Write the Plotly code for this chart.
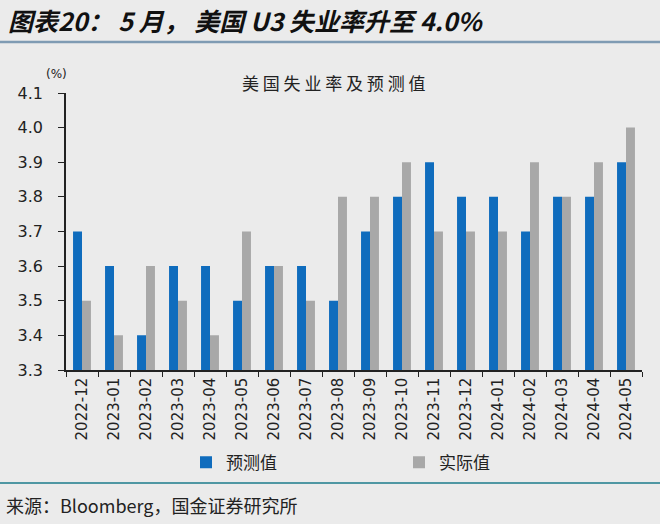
import plotly.graph_objects as go

months = ["2022-12","2023-01","2023-02","2023-03","2023-04","2023-05","2023-06","2023-07","2023-08",
          "2023-09","2023-10","2023-11","2023-12","2024-01","2024-02","2024-03","2024-04","2024-05"]
forecast = [3.7,3.6,3.4,3.6,3.6,3.5,3.6,3.6,3.5,3.7,3.8,3.9,3.8,3.8,3.7,3.8,3.8,3.9]
actual = [3.5,3.4,3.6,3.5,3.4,3.7,3.6,3.5,3.8,3.8,3.9,3.7,3.7,3.7,3.9,3.8,3.9,4.0]
yticks = [3.3,3.4,3.5,3.6,3.7,3.8,3.9,4.0,4.1]

BG = "#ebebeb"
CJK = "Noto Sans CJK SC"

fig = go.Figure()
fig.add_trace(go.Bar(x=months, y=forecast, name="预测值", marker_color="#0f6cbd", marker_line_width=0))
fig.add_trace(go.Bar(x=months, y=actual, name="实际值", marker_color="#a8a8a8", marker_line_width=0))

fig.update_layout(
    width=660, height=524,
    paper_bgcolor=BG, plot_bgcolor=BG,
    margin=dict(l=66, r=18, t=93, b=154),
    barmode="group", bargap=0.44, bargroupgap=0,
    font=dict(family=CJK, color="#222"),
    showlegend=True,
    legend=dict(orientation="h", x=(186-66)/576, xanchor="left", y=-0.335, yanchor="middle",
                font=dict(size=17, family=CJK, color="#222"), entrywidth=168, bgcolor="rgba(0,0,0,0)",
                itemwidth=30),
    xaxis=dict(type="category", showline=True, linecolor="#222", linewidth=1.5,
               ticks="outside", ticklen=5, tickcolor="#222", tickson="boundaries",
               tickangle=-90, tickfont=dict(family="DejaVu Sans", size=15, color="#222"),
               showgrid=False, zeroline=False),
    yaxis=dict(range=[3.3, 4.1], tickvals=yticks, ticktext=[f"{v:.1f}" for v in yticks],
               showline=True, linecolor="#222", linewidth=1.5,
               ticks="outside", ticklen=6, tickcolor="#222",
               tickfont=dict(family="DejaVu Sans", size=16, color="#222"),
               showgrid=False, zeroline=False, ticklabelstandoff=12),
    annotations=[
        dict(text="<b><i>图表20： 5 月， 美国 U3 失业率升至 4.0%</i></b>", xref="paper", yref="paper",
             x=-60/576, y=(524-20-154)/277, xanchor="left", yanchor="middle", showarrow=False,
             font=dict(size=25, family=CJK, color="#111")),
        dict(text="美 国 失 业 率 及 预 测 值", xref="paper", yref="paper", x=(333-66)/576, y=(524-82-154)/277,
             xanchor="center", yanchor="middle", showarrow=False, font=dict(size=17, family=CJK, color="#222")),
        dict(text="(%)", xref="paper", yref="paper", x=-10/576, y=(524-74-154)/277,
             xanchor="center", yanchor="middle", showarrow=False, font=dict(size=12, family="DejaVu Sans", color="#222")),
        dict(text="来源：Bloomberg，国金证券研究所", xref="paper", yref="paper", x=-62/576,
             y=(524-505-154)/277, xanchor="left", yanchor="middle", showarrow=False,
             font=dict(size=18, family=CJK, color="#222")),
    ],
    shapes=[
        dict(type="line", xref="paper", yref="paper", x0=-66/576, x1=594/576,
             y0=(524-42-154)/277, y1=(524-42-154)/277, line=dict(color="#7f9bb3", width=2.5)),
        dict(type="line", xref="paper", yref="paper", x0=-66/576, x1=594/576,
             y0=(524-483-154)/277, y1=(524-483-154)/277, line=dict(color="#4f97a3", width=2)),
    ],
)

fig.write_html("out.html")
